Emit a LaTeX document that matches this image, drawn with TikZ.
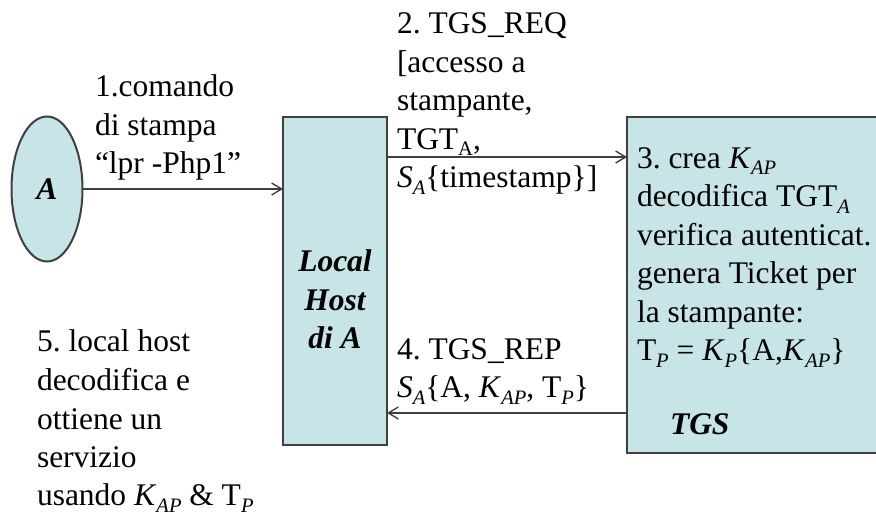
\documentclass[tikz,border=0pt]{standalone}
\usepackage{fontspec}
\setmainfont{Liberation Serif}
\usepackage{graphicx}
\usetikzlibrary{shapes.geometric,arrows.meta}
\frenchspacing

% lowered, smaller subscript text
\newcommand{\dn}[1]{\raisebox{-0.2em}{\fontsize{20.5}{20.5}\selectfont #1}}
\newcommand{\ik}[1]{\textit{#1}}

\definecolor{boxfill}{RGB}{199,228,231}
\definecolor{edge}{RGB}{64,64,64}

\tikzset{
  every node/.style={inner sep=0pt, outer sep=0pt},
  % multi-line labels are placed by the baseline of their last line
  txt/.style={font=\fontsize{31.5}{38.5}\selectfont, align=left, anchor=base west},
  bold/.style={font=\fontsize{31.5}{38.5}\selectfont\bfseries\itshape},
  panel/.style={draw=edge, line width=2pt, fill=boxfill},
  arr/.style={draw=edge, line width=1.4pt, -{Straight Barb[length=10pt,width=12pt,line width=1.4pt]}}
}

\begin{document}
\begin{tikzpicture}[x=1pt,y=-1pt]
\useasboundingbox (0,0) rectangle (876,518);

% user A
\node[panel, ellipse, minimum width=71pt, minimum height=145pt, bold] (A) at (47,189) {A};

% local host of A
\node[panel, rectangle, minimum width=104pt, minimum height=328pt] (lh) at (335,281) {};
\node[bold, align=center, anchor=base] (lhl) at (335,349) {Local\\Host\\di A};

% ticket granting server (runs off the right edge)
\draw[panel] (627,117) rectangle (884,453);
\coordinate (tgsw) at (627,117);
\node[bold, anchor=base west] (tgsl) at (670,435) {TGS};

% messages
\draw[arr] (A.east) -- (A.east -| lh.west);
\draw[arr] (lh.north east) ++(0,40) coordinate (req) -- (req -| tgsw);
\coordinate (rep) at (627,413);
\draw[arr] (rep) -- (rep -| lh.east);

% labels
\node[txt] (t1) at (95,174) {1.comando\\di stampa\\“lpr -Php1”};
\node[txt] (t2) at (397,188) {2. TGS\_REQ\\{[}accesso a\\stampante,\\TGT\dn{A},\\\ik{S}\dn{\ik{A}}\{timestamp\}]};
\node[txt] (t3) at (637,361) {3. crea \ik{K}\dn{\ik{AP}}\\decodifica TGT\dn{\ik{A}}\\verifica autenticat.\\genera Ticket per\\la stampante:\\T\dn{\ik{P}} = \ik{K}\dn{\ik{P}}\{A,\ik{K}\dn{\ik{AP}}\}};
\node[txt] (t4) at (397,398) {4. TGS\_REP\\\ik{S}\dn{\ik{A}}\{A, \ik{K}\dn{\ik{AP}}, T\dn{\ik{P}}\}};
\node[txt] (t5) at (37,506) {5. local host\\decodifica e\\ottiene un\\servizio\\usando \ik{K}\dn{\ik{AP}} \& T\dn{\ik{P}}};
\end{tikzpicture}
\end{document}
